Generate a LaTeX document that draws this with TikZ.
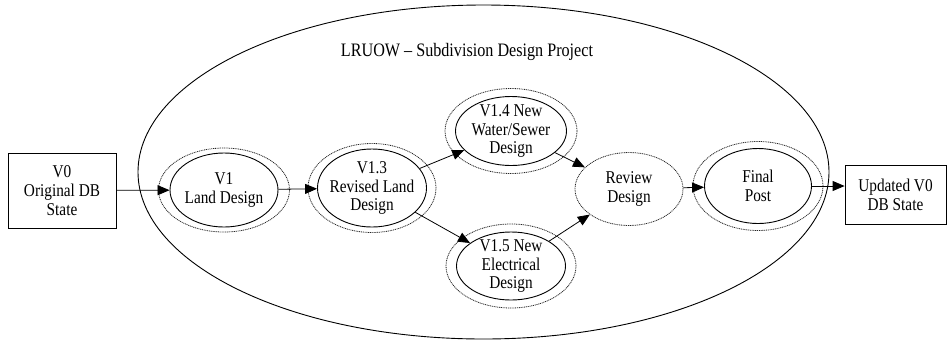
\documentclass[tikz,border=0pt]{standalone}
\usepackage{fontspec}
\setmainfont{Liberation Serif}[FakeStretch=0.85]
\usetikzlibrary{shapes,arrows.meta}

\begin{document}
\begin{tikzpicture}[x=1pt,y=-1pt,every node/.append style={font=\fontsize{18}{18.7}\selectfont}]
	\tikzset{state/.style={draw,ellipse,line width=0.9pt,inner xsep=-6pt,inner ysep=-8pt,align=center},
		review/.style={state,gray!30!black,text=black,line width=0.8pt,dash pattern=on 1pt off 0.8pt},
		ring/.style={gray!30!black,line width=0.8pt,dash pattern=on 1pt off 0.8pt},
		db/.style={draw,rectangle,line width=0.8pt,inner sep=0pt,align=center},
		arr/.style={-{Triangle[length=12pt,width=10pt]},line width=0.8pt}}
	\useasboundingbox (0,0) rectangle (947,341);
	
	\node[draw,ellipse,line width=0.9pt,minimum width=691pt,minimum height=334pt](lruow) at (483.5,172) {};
	\node[font=\fontsize{19}{20}\selectfont](title) at (467,52) {LRUOW – Subdivision Design Project};
	
	\node[db,minimum width=108pt,minimum height=75pt](orig) at (62,190.5) {V0\\Original DB\\State};
	\node[state,minimum width=108pt,minimum height=74pt](v1) at (224,190) {V1\\Land Design};
	\node[state,minimum width=109pt,minimum height=78pt](v13) at (372,188) {V1.3\\Revised Land\\Design};
	\node[state,minimum width=111pt,minimum height=69pt](v14) at (511,131) {V1.4 New\\Water/Sewer\\Design};
	\node[state,minimum width=109pt,minimum height=68pt](v15) at (511,266) {V1.5 New\\Electrical\\Design};
	\node[review,minimum width=108pt,minimum height=73pt](review) at (629,189) {Review\\Design};
	\node[state,minimum width=107pt,minimum height=75pt](final) at (758,186) {Final\\Post};
	\node[db,minimum width=101pt,minimum height=59pt](upd) at (895.5,194.5) {Updated V0\\DB State};
	
	\draw[ring] (v1.center) ellipse [x radius=65.5pt, y radius=42pt];
	\draw[ring] (v13.center) ellipse [x radius=64pt, y radius=44.5pt];
	\draw[ring] (v14.center) ellipse [x radius=66pt, y radius=42.5pt];
	\draw[ring] (v15.center) ellipse [x radius=65pt, y radius=42pt];
	\draw[ring] (final.center) ellipse [x radius=65pt, y radius=44.5pt];
	
	\draw[arr] (orig) -- (v1);
	\draw[arr] (v1) -- (v13);
	\draw[arr] (v13) -- (v14);
	\draw[arr] (v13) -- (v15);
	\draw[arr] (v14) -- (review);
	\draw[arr] (v15) -- (review);
	\draw[arr] (review) -- (final);
	\draw[arr] (final) -- (final -| upd.west);
\end{tikzpicture}
\end{document}
